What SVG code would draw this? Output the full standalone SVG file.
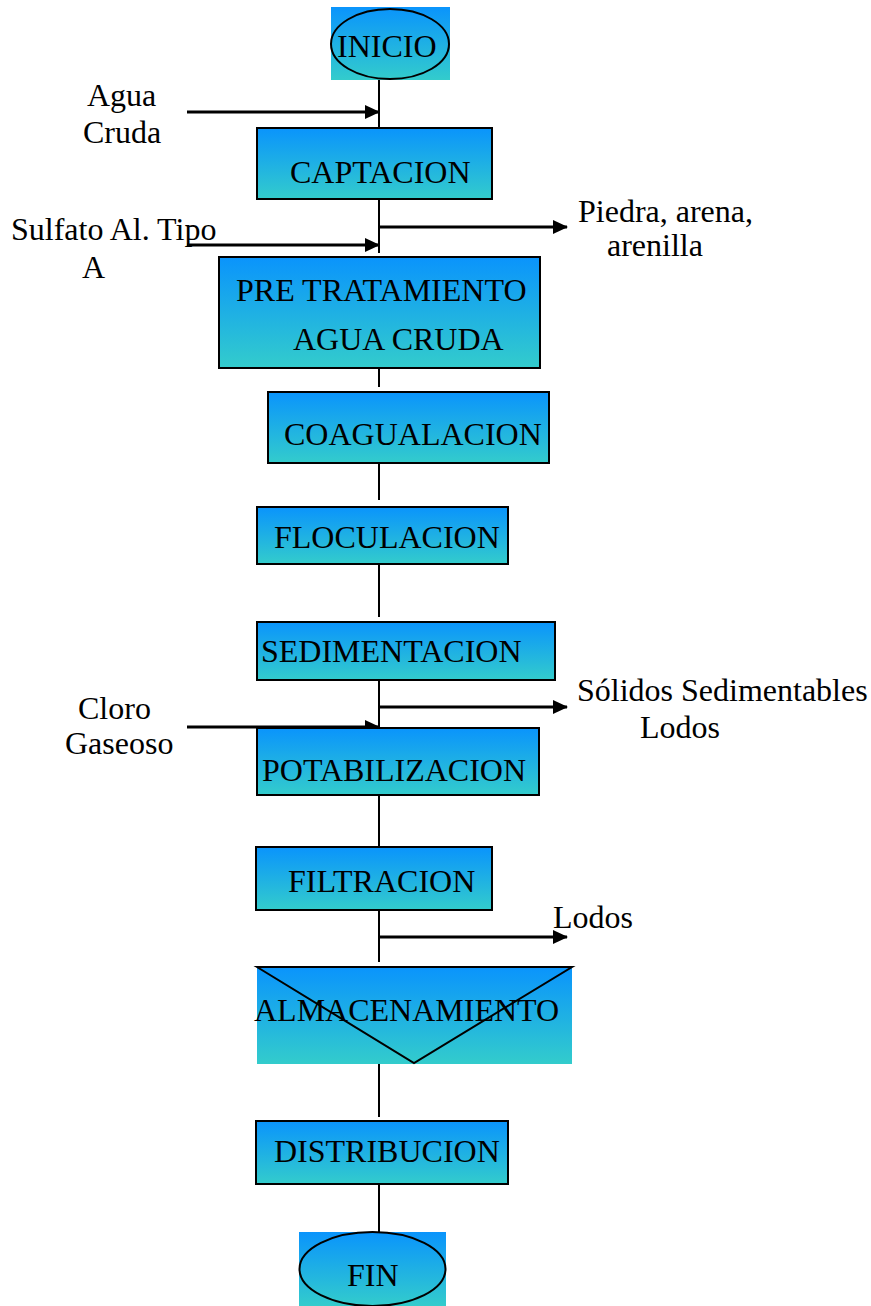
<svg xmlns="http://www.w3.org/2000/svg" width="871" height="1306" viewBox="0 0 871 1306">
<style>
text{font-family:"Liberation Serif","Times New Roman",Tinos,Times,"DejaVu Serif",serif;font-size:32px;fill:#000}
.box{fill:url(#g);stroke:#000;stroke-width:2}
.bg{fill:url(#g)}
.ol{fill:none;stroke:#000;stroke-width:2}
.v{stroke:#000;stroke-width:2;fill:none}
.a{stroke:#000;stroke-width:3;fill:none;marker-end:url(#ah)}
</style>
<defs>
<linearGradient id="g" x1="0" y1="0" x2="0" y2="1">
<stop offset="0" stop-color="#0a94fc"/>
<stop offset="1" stop-color="#33cccc"/>
</linearGradient>
<marker id="ah" markerWidth="15" markerHeight="14" refX="14" refY="7" orient="auto" markerUnits="userSpaceOnUse">
<path d="M0,0 L15,7 L0,14 Z" fill="#000"/>
</marker>
</defs>
<g id="connectors">
<line class="v" x1="379" y1="80" x2="379" y2="138"/>
<line class="v" x1="379" y1="194" x2="379" y2="253"/>
<line class="v" x1="379" y1="328" x2="379" y2="387"/>
<line class="v" x1="379" y1="435" x2="379" y2="500"/>
<line class="v" x1="379" y1="559" x2="379" y2="617"/>
<line class="v" x1="379" y1="674" x2="379" y2="732"/>
<line class="v" x1="379" y1="789" x2="379" y2="847"/>
<line class="v" x1="379" y1="904" x2="379" y2="962"/>
<line class="v" x1="379" y1="1057" x2="379" y2="1117"/>
<line class="v" x1="379" y1="1172" x2="379" y2="1232"/>
<line class="a" x1="187" y1="112" x2="379" y2="112"/>
<line class="a" x1="378" y1="227" x2="567" y2="227"/>
<line class="a" x1="187" y1="245" x2="379" y2="245"/>
<line class="a" x1="378" y1="707" x2="567" y2="707"/>
<line class="a" x1="187" y1="727" x2="379" y2="727"/>
<line class="a" x1="378" y1="937" x2="567" y2="937"/>
</g>
<g id="inicio">
<rect class="bg" x="331" y="7" width="119" height="73"/>
<ellipse class="ol" cx="390" cy="44" rx="59" ry="35"/>
<text x="337" y="57">INICIO</text>
</g>
<g id="captacion">
<rect class="box" x="257" y="128" width="235" height="71"/>
<text x="290" y="183">CAPTACION</text>
</g>
<g id="pretratamiento">
<rect class="box" x="219" y="257" width="321" height="111"/>
<text x="236" y="301">PRE TRATAMIENTO</text>
<text x="293" y="350">AGUA CRUDA</text>
</g>
<g id="coagulacion">
<rect class="box" x="268" y="392" width="281" height="71"/>
<text x="284" y="445">COAGUALACION</text>
</g>
<g id="floculacion">
<rect class="box" x="257" y="507" width="251" height="57"/>
<text x="274" y="548">FLOCULACION</text>
</g>
<g id="sedimentacion">
<rect class="box" x="257" y="622" width="298" height="58"/>
<text x="261" y="662">SEDIMENTACION</text>
</g>
<g id="potabilizacion">
<rect class="box" x="257" y="728" width="282" height="67"/>
<text x="262" y="781">POTABILIZACION</text>
</g>
<g id="filtracion">
<rect class="box" x="256" y="847" width="236" height="63"/>
<text x="288" y="892">FILTRACION</text>
</g>
<g id="almacenamiento">
<rect class="bg" x="257" y="967" width="315" height="97"/>
<path class="ol" d="M257,967 L572,967 L414,1063 Z"/>
<text x="254" y="1021">ALMACENAMIENTO</text>
</g>
<g id="distribucion">
<rect class="box" x="256" y="1121" width="252" height="63"/>
<text x="274" y="1162">DISTRIBUCION</text>
</g>
<g id="fin">
<rect class="bg" x="299" y="1232" width="147" height="74"/>
<ellipse class="ol" cx="372.5" cy="1269" rx="73" ry="37"/>
<text x="347" y="1286">FIN</text>
</g>
<g id="labels">
<text x="87" y="106">Agua</text>
<text x="83" y="143">Cruda</text>
<text x="11" y="240">Sulfato Al. Tipo</text>
<text x="82" y="278">A</text>
<text x="578" y="222">Piedra, arena,</text>
<text x="607" y="256">arenilla</text>
<text x="78" y="719">Cloro</text>
<text x="65" y="754">Gaseoso</text>
<text x="577" y="701">Sólidos Sedimentables</text>
<text x="640" y="738">Lodos</text>
<text x="553" y="928">Lodos</text>
</g>
</svg>
